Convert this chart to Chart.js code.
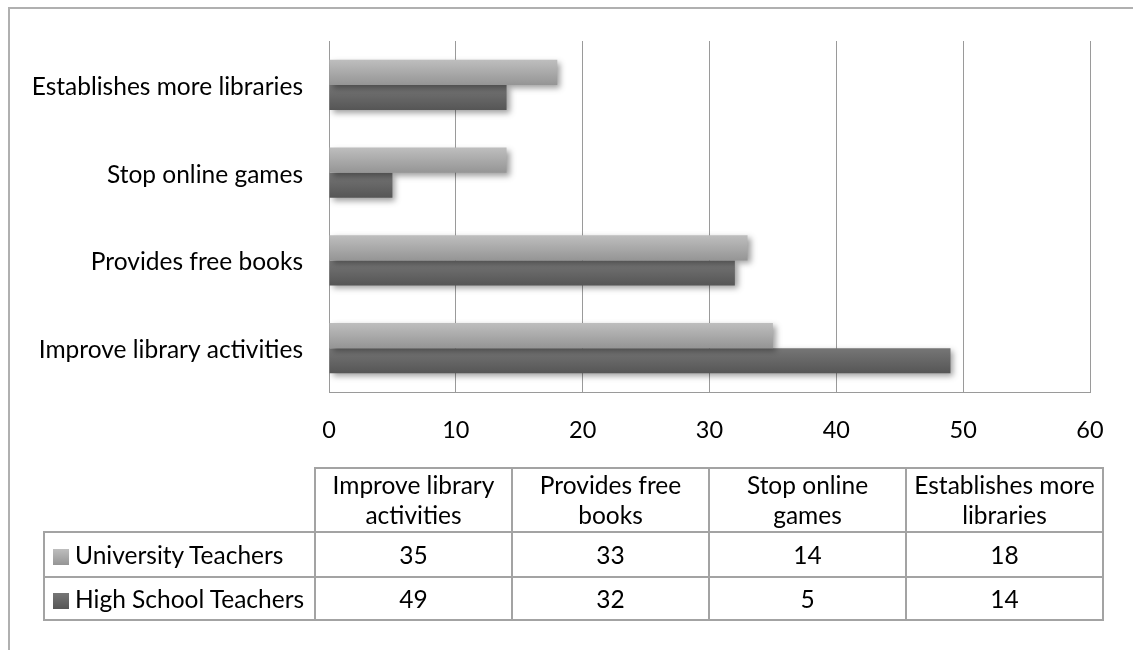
<!DOCTYPE html>
<html>
<head>
<meta charset="utf-8">
<script src="https://cdn.jsdelivr.net/npm/chart.js@4.4.1/dist/chart.umd.min.js"></script>
<style>
  html, body { margin:0; padding:0; background:#fff; width:1133px; height:650px; overflow:hidden; }
  #frame { position:absolute; left:8px; top:7px; width:2000px; height:2000px; border-left:2px solid #b0b0b0; border-top:2px solid #b0b0b0; pointer-events:none; z-index:3; }
  #c { position:absolute; left:0; top:0; }
  table { position:absolute; left:43px; top:467px; border-collapse:collapse; font-family:Lato, sans-serif; font-size:24.5px; color:#000; table-layout:fixed; z-index:2; }
  td { border:2px solid #a3a3a3; text-align:center; padding:0; line-height:30px; }
  td.corner { border-top:none; border-left:none; }
  td.name { text-align:left; padding-left:8px; white-space:nowrap; }
  .sw { display:inline-block; width:16px; height:16px; margin-right:6px; vertical-align:-1px; }
</style>
</head>
<body>
<div id="frame"></div>
<canvas id="c" width="1133" height="650"></canvas>
<table id="tbl"></table>
<script>
const categories = ['Improve library activities', 'Provides free books', 'Stop online games', 'Establishes more libraries'];
const universityTeachers = [35, 33, 14, 18];
const highSchoolTeachers = [49, 32, 5, 14];
const seriesNames = ['University Teachers', 'High School Teachers'];
const xTicks = [0, 10, 20, 30, 40, 50, 60];

const FONT = 'Lato';
const gradients = [['#bebebe', '#959595'], ['#767676', '#565656']];

// Chart draws first category at the bottom, so reverse for the category axis
const chartLabels = categories.slice().reverse();
const uniRev = universityTeachers.slice().reverse();
const hsRev = highSchoolTeachers.slice().reverse();

const barStyle = {
  id: 'barStyle',
  beforeDatasetDraw(chart, args) {
    const ctx = chart.ctx;
    const stops = gradients[args.index];
    args.meta.data.forEach(el => {
      const p = el.getProps(['y', 'height'], true);
      const g = ctx.createLinearGradient(0, p.y - p.height / 2, 0, p.y + p.height / 2);
      g.addColorStop(0, stops[0]);
      g.addColorStop(1, stops[1]);
      el.options = Object.assign({}, el.options, { backgroundColor: g });
    });
    ctx.save();
    ctx.shadowColor = 'rgba(0,0,0,0.38)';
    ctx.shadowBlur = 6;
    ctx.shadowOffsetX = 3;
    ctx.shadowOffsetY = 3;
  },
  afterDatasetDraw(chart) { chart.ctx.restore(); }
};

new Chart(document.getElementById('c'), {
  type: 'bar',
  data: {
    labels: chartLabels,
    datasets: [
      { label: seriesNames[0], data: uniRev, backgroundColor: gradients[0][0], borderWidth: 0 },
      { label: seriesNames[1], data: hsRev, backgroundColor: gradients[1][0], borderWidth: 0 }
    ]
  },
  options: {
    indexAxis: 'y',
    responsive: false,
    animation: false,
    devicePixelRatio: 1,
    categoryPercentage: 0.57,
    barPercentage: 1,
    layout: { padding: { left: 0, right: 43, top: 41, bottom: 0 } },
    plugins: { legend: { display: false }, tooltip: { enabled: false } },
    scales: {
      x: {
        min: xTicks[0], max: xTicks[xTicks.length - 1],
        afterBuildTicks: s => { s.ticks = xTicks.map(v => ({ value: v })); },
        afterFit: s => { s.height = 258; },
        ticks: { color: '#000', font: { family: FONT, size: 23.5 }, padding: 24 },
        grid: { color: '#9a9a9a', lineWidth: 1, drawTicks: false },
        border: { display: true, color: '#9a9a9a', width: 1 }
      },
      y: {
        afterFit: s => { s.width = 329; },
        ticks: { color: '#000', font: { family: FONT, size: 24.5 }, padding: 26, labelOffset: 2 },
        grid: { display: false, drawTicks: false },
        border: { display: true, color: '#9a9a9a', width: 1 }
      }
    }
  },
  plugins: [barStyle]
});

// data table
const tbl = document.getElementById('tbl');
const colW = [271, 197, 197, 197, 197];
const cg = document.createElement('colgroup');
colW.forEach(w => { const c = document.createElement('col'); c.style.width = w + 'px'; cg.appendChild(c); });
tbl.appendChild(cg);
const head = document.createElement('tr');
head.style.height = '64px';
const corner = document.createElement('td'); corner.className = 'corner'; head.appendChild(corner);
categories.forEach(cat => {
  const td = document.createElement('td');
  const words = cat.split(' ');
  td.appendChild(document.createTextNode(words.slice(0, -1).join(' ')));
  td.appendChild(document.createElement('br'));
  td.appendChild(document.createTextNode(words[words.length - 1]));
  head.appendChild(td);
});
tbl.appendChild(head);
[universityTeachers, highSchoolTeachers].forEach((vals, i) => {
  const tr = document.createElement('tr');
  tr.style.height = i === 0 ? '45px' : '43px';
  const nm = document.createElement('td'); nm.className = 'name';
  const sw = document.createElement('span'); sw.className = 'sw';
  sw.style.background = 'linear-gradient(' + gradients[i][0] + ',' + gradients[i][1] + ')';
  nm.appendChild(sw);
  nm.appendChild(document.createTextNode(seriesNames[i]));
  tr.appendChild(nm);
  vals.forEach(v => { const td = document.createElement('td'); td.textContent = v; tr.appendChild(td); });
  tbl.appendChild(tr);
});
</script>
</body>
</html>
